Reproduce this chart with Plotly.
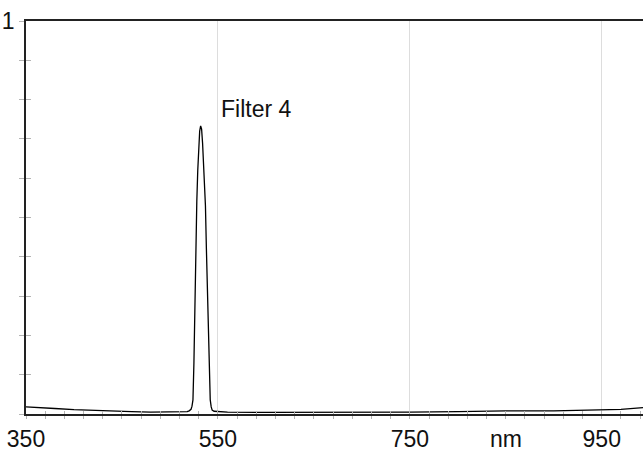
import plotly.graph_objects as go

wavelength = [350, 360, 380, 400, 420, 440, 460, 480, 500, 510, 515, 518, 520, 522, 523, 524,
              525, 526, 527, 528, 529, 530, 531, 532, 533, 534, 535, 536, 537, 538, 539, 540,
              541, 542, 543, 544, 546, 550, 560, 600, 650, 700, 750, 800, 850, 900, 950, 970, 993]
transmission = [0.018, 0.017, 0.014, 0.011, 0.009, 0.007, 0.006, 0.005, 0.005, 0.005, 0.006, 0.006,
                0.008, 0.012, 0.020, 0.036, 0.13, 0.29, 0.42, 0.54, 0.62, 0.68, 0.72, 0.733, 0.725,
                0.69, 0.64, 0.58, 0.53, 0.42, 0.31, 0.21, 0.11, 0.036, 0.018, 0.010, 0.007, 0.006,
                0.005, 0.004, 0.004, 0.004, 0.005, 0.006, 0.008, 0.008, 0.010, 0.012, 0.016]

x_tick_vals = [350, 550, 750, 950]
x_tick_text = ["350", "550", "750", "950"]
y_tick_vals = [0, 0.1, 0.2, 0.3, 0.4, 0.5, 0.6, 0.7, 0.8, 0.9, 1.0]
y_tick_text = ["", "", "", "", "", "", "", "", "", "", "1"]
series_label = "Filter 4"
unit_label = "nm"

FONT = "Liberation Sans, Arial, sans-serif"
TICKC = "#b4b4b4"
XR = [350, 993]
FS = 23

fig = go.Figure()
fig.add_trace(go.Scatter(x=wavelength, y=transmission, mode="lines",
                         line=dict(color="#000000", width=1.3), showlegend=False,
                         hoverinfo="skip"))
fig.add_trace(go.Scatter(x=[], y=[], xaxis="x2", yaxis="y2", showlegend=False))

fig.update_layout(
    width=643, height=452,
    margin=dict(l=26, r=0, t=21, b=38, autoexpand=False),
    paper_bgcolor="white", plot_bgcolor="white",
    font=dict(family=FONT, size=FS, color="#111111"),
    xaxis=dict(range=XR, tickvals=x_tick_vals, ticktext=x_tick_text,
               showgrid=True, gridcolor="#dddddd", gridwidth=1,
               ticks="outside", ticklen=3, tickcolor=TICKC, tickwidth=1,
               minor=dict(tick0=350, dtick=20, ticks="outside", ticklen=3,
                          tickcolor=TICKC, tickwidth=1, showgrid=False),
               showline=True, linecolor="#222222", linewidth=1.5, mirror=True,
               zeroline=False, tickfont=dict(size=FS), ticklabelstandoff=1,
               ticklabeloverflow="allow", automargin=False),
    xaxis2=dict(range=XR, overlaying="x", anchor="y", side="bottom",
                tick0=350, dtick=20, ticks="inside", ticklen=3, tickcolor=TICKC,
                showticklabels=False, showgrid=False, showline=False, zeroline=False,
                automargin=False),
    yaxis=dict(range=[0, 1], tickvals=y_tick_vals, ticktext=y_tick_text,
               showgrid=False, ticks="outside", ticklen=5, tickcolor=TICKC, tickwidth=1,
               showline=True, linecolor="#222222", linewidth=1.5,
               zeroline=False, tickfont=dict(size=FS), ticklabeloverflow="allow",
               automargin=False),
    yaxis2=dict(range=[0, 1], overlaying="y", anchor="x", side="left",
                tickvals=y_tick_vals, ticks="inside", ticklen=5, tickcolor=TICKC,
                showticklabels=False, showgrid=False, showline=False, zeroline=False,
                automargin=False),
    annotations=[
        dict(x=551, y=0.777, xref="x", yref="y", text=series_label, showarrow=False,
             xanchor="left", yanchor="middle", font=dict(size=FS)),
        dict(x=850, y=-0.064, xref="x", yref="paper", text=unit_label, showarrow=False,
             xanchor="center", yanchor="middle", font=dict(size=FS)),
    ],
)

# remove the browser's default 8px body margin so the figure fills the window
fig.write_html("out.html", config={"displayModeBar": False},
               post_script="document.body.style.margin='0';")
